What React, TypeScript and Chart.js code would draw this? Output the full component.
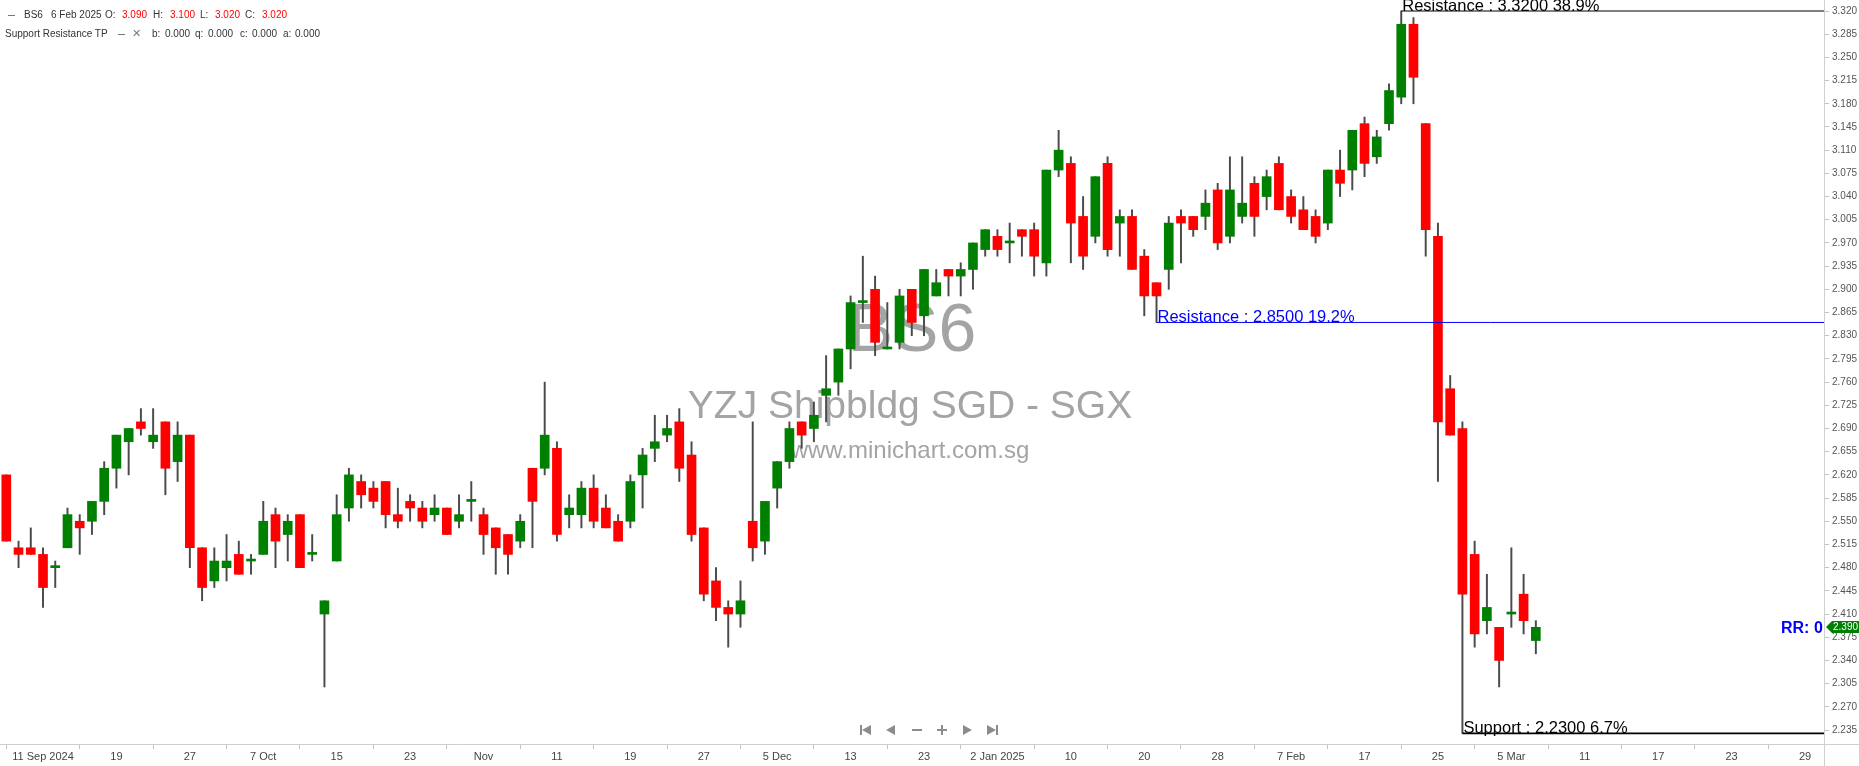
import React, { useEffect, useRef } from 'react';
import { Chart, registerables } from 'chart.js';

Chart.register(...registerables);

// ---- Data (BS6 daily candles, 6 Sep 2024 .. 7 Mar 2025) ----
const opens = [
  2.62, 2.51, 2.51, 2.50, 2.48, 2.51, 2.55, 2.55, 2.58, 2.63,
  2.67, 2.70, 2.67, 2.70, 2.64, 2.68, 2.51, 2.46, 2.48, 2.50,
  2.49, 2.50, 2.56, 2.53, 2.56, 2.50, 2.41, 2.49, 2.57, 2.61,
  2.60, 2.61, 2.56, 2.58, 2.57, 2.56, 2.57, 2.55, 2.58, 2.56,
  2.54, 2.53, 2.52, 2.63, 2.63, 2.66, 2.56, 2.56, 2.60, 2.57,
  2.55, 2.55, 2.62, 2.66, 2.68, 2.70, 2.65, 2.54, 2.46, 2.42,
  2.41, 2.55, 2.52, 2.60, 2.64, 2.70, 2.69, 2.74, 2.76, 2.81,
  2.88, 2.90, 2.81, 2.82, 2.90, 2.86, 2.89, 2.93, 2.92, 2.93,
  2.96, 2.98, 2.97, 2.99, 2.99, 2.94, 3.08, 3.09, 3.01, 2.98,
  3.09, 3.00, 3.01, 2.95, 2.91, 2.93, 3.01, 3.01, 3.01, 3.05,
  2.98, 3.01, 3.06, 3.04, 3.09, 3.04, 3.02, 3.01, 3.00, 3.08,
  3.08, 3.15, 3.10, 3.15, 3.19, 3.30, 3.15, 2.98, 2.75, 2.69,
  2.50, 2.40, 2.39, 2.41, 2.44, 2.37,
];
const highs = [
  2.62, 2.52, 2.54, 2.51, 2.49, 2.57, 2.56, 2.58, 2.64, 2.68,
  2.69, 2.72, 2.72, 2.70, 2.70, 2.68, 2.51, 2.51, 2.53, 2.52,
  2.50, 2.58, 2.57, 2.56, 2.56, 2.53, 2.43, 2.59, 2.63, 2.62,
  2.61, 2.61, 2.60, 2.59, 2.58, 2.59, 2.57, 2.59, 2.61, 2.57,
  2.54, 2.53, 2.56, 2.63, 2.76, 2.67, 2.59, 2.61, 2.62, 2.59,
  2.56, 2.62, 2.66, 2.71, 2.71, 2.72, 2.67, 2.54, 2.48, 2.43,
  2.46, 2.70, 2.58, 2.64, 2.70, 2.70, 2.73, 2.80, 2.81, 2.89,
  2.95, 2.92, 2.88, 2.90, 2.90, 2.93, 2.93, 2.93, 2.94, 2.97,
  2.99, 2.99, 3.00, 2.99, 3.00, 3.08, 3.14, 3.10, 3.04, 3.07,
  3.10, 3.02, 3.02, 2.96, 2.91, 3.01, 3.02, 3.01, 3.05, 3.06,
  3.10, 3.10, 3.07, 3.08, 3.10, 3.05, 3.04, 3.02, 3.08, 3.11,
  3.14, 3.16, 3.14, 3.21, 3.32, 3.31, 3.15, 3.00, 2.77, 2.70,
  2.52, 2.47, 2.39, 2.51, 2.47, 2.40,
];
const lows = [
  2.52, 2.48, 2.50, 2.42, 2.45, 2.51, 2.50, 2.53, 2.56, 2.60,
  2.62, 2.68, 2.66, 2.59, 2.61, 2.48, 2.43, 2.45, 2.46, 2.47,
  2.47, 2.50, 2.48, 2.49, 2.48, 2.49, 2.30, 2.49, 2.55, 2.57,
  2.57, 2.54, 2.54, 2.55, 2.54, 2.55, 2.53, 2.54, 2.55, 2.50,
  2.47, 2.47, 2.51, 2.51, 2.62, 2.52, 2.54, 2.54, 2.54, 2.54,
  2.52, 2.54, 2.57, 2.64, 2.67, 2.61, 2.52, 2.43, 2.40, 2.36,
  2.39, 2.49, 2.50, 2.57, 2.63, 2.66, 2.67, 2.70, 2.74, 2.78,
  2.85, 2.80, 2.81, 2.81, 2.83, 2.83, 2.89, 2.89, 2.89, 2.90,
  2.95, 2.95, 2.94, 2.95, 2.92, 2.92, 3.07, 2.94, 2.93, 2.97,
  2.95, 2.95, 2.93, 2.86, 2.85, 2.90, 2.94, 2.98, 2.99, 2.96,
  2.97, 3.00, 2.98, 3.02, 3.02, 3.00, 2.99, 2.97, 2.99, 3.04,
  3.05, 3.07, 3.09, 3.14, 3.18, 3.18, 2.95, 2.61, 2.68, 2.23,
  2.36, 2.38, 2.30, 2.39, 2.38, 2.35,
];
const closes = [
  2.52, 2.50, 2.50, 2.45, 2.48, 2.56, 2.54, 2.58, 2.63, 2.68,
  2.69, 2.69, 2.68, 2.63, 2.68, 2.51, 2.45, 2.49, 2.49, 2.47,
  2.49, 2.55, 2.52, 2.55, 2.48, 2.50, 2.43, 2.56, 2.62, 2.59,
  2.58, 2.56, 2.55, 2.57, 2.55, 2.57, 2.53, 2.56, 2.58, 2.53,
  2.51, 2.50, 2.55, 2.58, 2.68, 2.53, 2.57, 2.60, 2.55, 2.54,
  2.52, 2.61, 2.65, 2.67, 2.69, 2.63, 2.53, 2.44, 2.42, 2.41,
  2.43, 2.51, 2.58, 2.64, 2.69, 2.68, 2.71, 2.75, 2.81, 2.88,
  2.88, 2.82, 2.81, 2.89, 2.85, 2.93, 2.91, 2.92, 2.93, 2.97,
  2.99, 2.96, 2.97, 2.98, 2.95, 3.08, 3.11, 3.00, 2.95, 3.07,
  2.96, 3.01, 2.93, 2.89, 2.89, 3.00, 3.00, 2.99, 3.03, 2.97,
  3.05, 3.03, 3.01, 3.07, 3.02, 3.01, 2.99, 2.98, 3.08, 3.06,
  3.14, 3.09, 3.13, 3.20, 3.30, 3.22, 2.99, 2.70, 2.68, 2.44,
  2.38, 2.42, 2.34, 2.41, 2.40, 2.39,
];

const xTickIdx = [3, 9, 15, 21, 27, 33, 39, 45, 51, 57, 63, 69, 75, 81, 87, 93, 99, 105, 111, 117, 123, 129, 135, 141, 147];
const xTickLabels = [
  '11 Sep 2024', '19', '27', '7 Oct', '15', '23', 'Nov', '11', '19', '27', '5 Dec', '13', '23',
  '2 Jan 2025', '10', '20', '28', '7 Feb', '17', '25', '5 Mar', '11', '17', '23', '29',
];
const yTicks = [
  2.235, 2.270, 2.305, 2.340, 2.375, 2.410, 2.445, 2.480, 2.515, 2.550, 2.585,
  2.620, 2.655, 2.690, 2.725, 2.760, 2.795, 2.830, 2.865, 2.900, 2.935, 2.970,
  3.005, 3.040, 3.075, 3.110, 3.145, 3.180, 3.215, 3.250, 3.285, 3.320,
];

const levelValues = [3.32, 2.85, 2.23];
const levelStarts = [114, 94, 119];
const levelLabels = ['Resistance : 3.3200 38.9%', 'Resistance : 2.8500 19.2%', 'Support : 2.2300 6.7%'];

const lastPrice = 2.39;
const legendIdx = 104;

// ---- Styling ----
const GREEN = '#008000';
const RED = '#ff0000';
const WICK = '#4a4a4a';
const AXIS = '#cfcfcf';
const levelColors = ['#000000', '#0000ff', '#000000'];
const levelWidths = [1.2, 1, 1.6];
const X_MIN = -0.515;
const X_MAX = 148.55;
const Y_MIN = 2.2139;
const Y_MAX = 3.3366;
const FONT = '"Liberation Sans", Arial, sans-serif';

const overlayPlugin = {
  id: 'overlay',
  beforeDatasetsDraw(chart: any) {
    const { ctx, chartArea } = chart;
    const cx = (chartArea.left + chartArea.right) / 2;
    const cy = (chartArea.top + chartArea.bottom) / 2;
    ctx.save();
    ctx.fillStyle = '#a4a4a4';
    ctx.textAlign = 'center';
    ctx.textBaseline = 'alphabetic';
    ctx.font = `68px ${FONT}`;
    ctx.fillText('BS6', cx, cy - 21);
    ctx.font = `39px ${FONT}`;
    ctx.fillText('YZJ Shipbldg SGD - SGX', cx - 2, cy + 46);
    ctx.font = `24px ${FONT}`;
    ctx.fillText('www.minichart.com.sg', cx - 2, cy + 86);
    ctx.restore();
  },
  afterDatasetsDraw(chart: any) {
    const { ctx, chartArea } = chart;
    const xs = chart.scales.x;
    const ys = chart.scales.y;
    ctx.save();
    ctx.beginPath();
    ctx.rect(chartArea.left, chartArea.top, chartArea.right - chartArea.left, chartArea.bottom - chartArea.top);
    ctx.clip();
    ctx.textAlign = 'left';
    ctx.textBaseline = 'alphabetic';
    ctx.font = `16.5px ${FONT}`;
    levelValues.forEach((v, k) => {
      const px = xs.getPixelForValue(levelStarts[k]);
      const py = ys.getPixelForValue(v);
      ctx.fillStyle = levelColors[k];
      ctx.fillText(levelLabels[k], px + 1, py - 0.5);
    });
    // RR text
    const py = ys.getPixelForValue(lastPrice);
    ctx.font = `bold 16px ${FONT}`;
    ctx.fillStyle = '#0000ff';
    ctx.textBaseline = 'middle';
    ctx.fillText('RR: 0', chartArea.right - 43, py + 1);
    // navigation buttons
    ctx.fillStyle = '#8c8c8c';
    const ny = chartArea.bottom - 14;
    const nx = 860;
    ctx.fillRect(nx, ny - 5, 2, 10);
    ctx.beginPath(); ctx.moveTo(nx + 2, ny); ctx.lineTo(nx + 11, ny - 5); ctx.lineTo(nx + 11, ny + 5); ctx.closePath(); ctx.fill();
    ctx.beginPath(); ctx.moveTo(nx + 26, ny); ctx.lineTo(nx + 35, ny - 5); ctx.lineTo(nx + 35, ny + 5); ctx.closePath(); ctx.fill();
    ctx.fillRect(nx + 52, ny - 1, 10, 2);
    ctx.fillRect(nx + 77, ny - 1, 10, 2);
    ctx.fillRect(nx + 81, ny - 5, 2, 10);
    ctx.beginPath(); ctx.moveTo(nx + 112, ny); ctx.lineTo(nx + 103, ny - 5); ctx.lineTo(nx + 103, ny + 5); ctx.closePath(); ctx.fill();
    ctx.beginPath(); ctx.moveTo(nx + 136, ny); ctx.lineTo(nx + 127, ny - 5); ctx.lineTo(nx + 127, ny + 5); ctx.closePath(); ctx.fill();
    ctx.fillRect(nx + 136, ny - 5, 2, 10);
    ctx.restore();
  },
  afterDraw(chart: any) {
    const { ctx, chartArea, width, height } = chart;
    const ys = chart.scales.y;
    ctx.save();
    // extend axis lines into the corner
    ctx.strokeStyle = AXIS;
    ctx.lineWidth = 1;
    ctx.beginPath();
    ctx.moveTo(chartArea.right, Math.round(chartArea.bottom) + 0.5);
    ctx.lineTo(width, Math.round(chartArea.bottom) + 0.5);
    ctx.moveTo(Math.round(chartArea.right) + 0.5, chartArea.bottom);
    ctx.lineTo(Math.round(chartArea.right) + 0.5, height);
    ctx.stroke();
    // last price tag
    const py = Math.round(ys.getPixelForValue(lastPrice));
    const x0 = chartArea.right + 2;
    ctx.fillStyle = GREEN;
    ctx.beginPath();
    ctx.moveTo(x0, py);
    ctx.lineTo(x0 + 6, py - 6);
    ctx.lineTo(width, py - 6);
    ctx.lineTo(width, py + 6);
    ctx.lineTo(x0 + 6, py + 6);
    ctx.closePath();
    ctx.fill();
    ctx.fillStyle = '#ffffff';
    ctx.font = `10px ${FONT}`;
    ctx.textAlign = 'left';
    ctx.textBaseline = 'middle';
    ctx.fillText(lastPrice.toFixed(3), x0 + 7, py + 0.5);
    ctx.restore();
  },
};

export default function App() {
  const ref = useRef<HTMLCanvasElement>(null);

  useEffect(() => {
    document.body.style.margin = '0';
    const canvas = ref.current!;
    const bodyColors = opens.map((o, i) => (closes[i] >= o ? GREEN : RED));

    const chart = new Chart(canvas, {
      type: 'bar',
      data: {
        datasets: [
          {
            label: 'body',
            data: opens.map((o, i) => ({ x: i, y: [o, closes[i]] })) as any,
            backgroundColor: bodyColors,
            borderWidth: 0,
            barThickness: 9,
            minBarLength: 2,
            grouped: false,
            order: 1,
          } as any,
          {
            label: 'wick',
            data: lows.map((l, i) => ({ x: i, y: [l, highs[i]] })) as any,
            backgroundColor: WICK,
            borderWidth: 0,
            barThickness: 1.3,
            grouped: false,
            order: 2,
          } as any,
          ...levelValues.map((v, k) => ({
            type: 'line',
            label: levelLabels[k],
            data: [
              { x: levelStarts[k], y: v },
              { x: X_MAX, y: v },
            ],
            borderColor: levelColors[k],
            borderWidth: levelWidths[k],
            pointRadius: 0,
            fill: false,
            order: 0,
          })) as any,
        ],
      },
      options: {
        responsive: false,
        devicePixelRatio: 1,
        animation: false,
        events: [],
        layout: { padding: 0 },
        plugins: {
          legend: { display: false },
          tooltip: { enabled: false },
        },
        scales: {
          x: {
            type: 'linear',
            min: X_MIN,
            max: X_MAX,
            offset: false,
            afterBuildTicks: (scale: any) => {
              scale.ticks = xTickIdx.map((v) => ({ value: v }));
            },
            afterFit: (scale: any) => {
              scale.height = 22;
              scale.paddingLeft = 0;
              scale.paddingRight = 0;
            },
            grid: {
              drawOnChartArea: false,
              drawTicks: true,
              tickLength: 5,
              color: '#c4c4c4',
            },
            border: { display: true, color: AXIS },
            ticks: {
              autoSkip: false,
              maxRotation: 0,
              padding: 1,
              color: '#444',
              font: { family: '"Liberation Sans Narrow", "Liberation Sans", Arial, sans-serif', size: 11 },
              callback: (_v: any, i: number) => xTickLabels[i],
            },
          },
          y: {
            type: 'linear',
            position: 'right',
            min: Y_MIN,
            max: Y_MAX,
            afterBuildTicks: (scale: any) => {
              scale.ticks = yTicks.map((v) => ({ value: v }));
            },
            afterFit: (scale: any) => {
              scale.width = 35;
              scale.paddingTop = 0;
              scale.paddingBottom = 0;
            },
            grid: {
              drawOnChartArea: false,
              drawTicks: true,
              tickLength: 5,
              color: '#c4c4c4',
            },
            border: { display: true, color: AXIS },
            ticks: {
              autoSkip: false,
              padding: 3,
              color: '#555',
              font: { family: FONT, size: 10 },
              callback: (v: any) => Number(v).toFixed(3),
            },
          },
        },
      } as any,
      plugins: [overlayPlugin],
    });
    return () => chart.destroy();
  }, []);

  const lbl: React.CSSProperties = {
    position: 'absolute',
    fontFamily: FONT,
    fontSize: 10,
    lineHeight: '12px',
    color: '#333',
    whiteSpace: 'pre',
  };
  const red: React.CSSProperties = { ...lbl, color: RED };
  const line1 = 9;
  const line2 = 28;
  const o = opens[legendIdx].toFixed(3);
  const h = highs[legendIdx].toFixed(3);
  const l = lows[legendIdx].toFixed(3);
  const c = closes[legendIdx].toFixed(3);

  return (
    <div style={{ position: 'relative', width: 1859, height: 766, overflow: 'hidden', background: '#fff' }}>
      <canvas ref={ref} width={1859} height={766} style={{ display: 'block', width: 1859, height: 766 }} />
      <div style={{ position: 'absolute', left: 8, top: 15, width: 7, height: 1, background: '#777' }} />
      <span style={{ ...lbl, left: 24, top: line1 }}>BS6</span>
      <span style={{ ...lbl, left: 51, top: line1 }}>6 Feb 2025</span>
      <span style={{ ...lbl, left: 105, top: line1 }}>O:</span>
      <span style={{ ...red, left: 122, top: line1 }}>{o}</span>
      <span style={{ ...lbl, left: 153, top: line1 }}>H:</span>
      <span style={{ ...red, left: 170, top: line1 }}>{h}</span>
      <span style={{ ...lbl, left: 200, top: line1 }}>L:</span>
      <span style={{ ...red, left: 215, top: line1 }}>{l}</span>
      <span style={{ ...lbl, left: 245, top: line1 }}>C:</span>
      <span style={{ ...red, left: 262, top: line1 }}>{c}</span>

      <span style={{ ...lbl, left: 5, top: line2 }}>Support Resistance TP</span>
      <div style={{ position: 'absolute', left: 118, top: 34, width: 7, height: 1, background: '#777' }} />
      <span style={{ ...lbl, left: 132, top: line2 - 1, color: '#777', fontSize: 11 }}>✕</span>
      <span style={{ ...lbl, left: 152, top: line2 }}>b:</span>
      <span style={{ ...lbl, left: 165, top: line2 }}>0.000</span>
      <span style={{ ...lbl, left: 195, top: line2 }}>q:</span>
      <span style={{ ...lbl, left: 208, top: line2 }}>0.000</span>
      <span style={{ ...lbl, left: 240, top: line2 }}>c:</span>
      <span style={{ ...lbl, left: 252, top: line2 }}>0.000</span>
      <span style={{ ...lbl, left: 283, top: line2 }}>a:</span>
      <span style={{ ...lbl, left: 295, top: line2 }}>0.000</span>
    </div>
  );
}
